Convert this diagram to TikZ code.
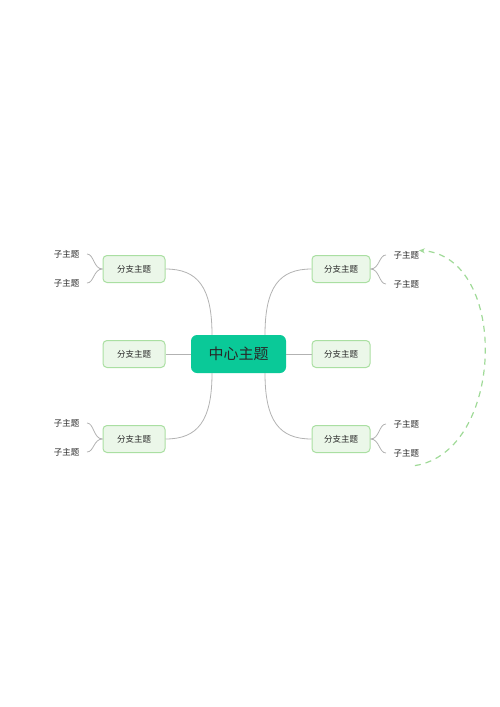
\documentclass[tikz,border=0pt]{standalone}
\usepackage{fontspec}
\setmainfont{Noto Sans CJK SC}
\usetikzlibrary{arrows.meta}

\definecolor{maingreen}{RGB}{10,201,152}
\definecolor{branchfill}{RGB}{235,247,233}
\definecolor{branchline}{RGB}{170,223,162}
\definecolor{linkgray}{RGB}{178,178,178}
\definecolor{dashgreen}{RGB}{160,218,152}
\definecolor{txt}{RGB}{40,40,40}

\tikzset{
  central/.style={fill=maingreen, rounded corners=6pt, minimum width=95pt, minimum height=38pt, inner sep=0pt, text=txt, font=\fontsize{15}{17}\selectfont},
  branch/.style={fill=branchfill, draw=branchline, line width=1pt, rounded corners=4pt, minimum height=27pt, inner sep=0pt, text=txt, font=\fontsize{8.5}{10}\selectfont},
  subtopic/.style={inner sep=1.5pt, text=txt, font=\fontsize{8.5}{10}\selectfont},
  link/.style={draw=linkgray, line width=0.8pt},
}

\begin{document}
\begin{tikzpicture}[x=1pt,y=-1pt]
			\useasboundingbox (0,0) rectangle (500,707);

			% main topic
			\node[central] (center) at (238.5,354) {中心主题};

			% branches
			\node[branch, minimum width=58pt] (bR1) at (341,269) {分支主题};
			\node[branch, minimum width=58pt] (bR2) at (341,354) {分支主题};
			\node[branch, minimum width=58pt] (bR3) at (341,439) {分支主题};
			\node[branch, minimum width=62pt] (bL1) at (134,269) {分支主题};
			\node[branch, minimum width=62pt] (bL2) at (134,354) {分支主题};
			\node[branch, minimum width=62pt] (bL3) at (134,439) {分支主题};

			% sub topics
			\node[subtopic, anchor=west] (sR1a) at (392,255) {子主题};
			\node[subtopic, anchor=west] (sR1b) at (392,284) {子主题};
			\node[subtopic, anchor=west] (sR3a) at (392,424) {子主题};
			\node[subtopic, anchor=west] (sR3b) at (392,453) {子主题};
			\node[subtopic, anchor=east] (sL1a) at (81,254) {子主题};
			\node[subtopic, anchor=east] (sL1b) at (81,283) {子主题};
			\node[subtopic, anchor=east] (sL3a) at (81,423) {子主题};
			\node[subtopic, anchor=east] (sL3b) at (81,452) {子主题};

			% center to branches
			\draw[link] ([xshift=26.5pt]center.north) .. controls +(0,-48) and +(-32,0) .. (bR1.west);
			\draw[link] ([xshift=26.5pt]center.south) .. controls +(0,48) and +(-32,0) .. (bR3.west);
			\draw[link] ([xshift=-26.5pt]center.north) .. controls +(0,-48) and +(32,0) .. (bL1.east);
			\draw[link] ([xshift=-26.5pt]center.south) .. controls +(0,48) and +(32,0) .. (bL3.east);
			\draw[link] (center.east) -- (bR2.west);
			\draw[link] (center.west) -- (bL2.east);

			% braces to sub topics
			\draw[link] (bR1.east) .. controls +(9,0) and +(-7,0) .. ([xshift=-6pt]sR1a.west);
			\draw[link] (bR1.east) .. controls +(9,0) and +(-7,0) .. ([xshift=-6pt]sR1b.west);
			\draw[link] (bR3.east) .. controls +(9,0) and +(-7,0) .. ([xshift=-6pt]sR3a.west);
			\draw[link] (bR3.east) .. controls +(9,0) and +(-7,0) .. ([xshift=-6pt]sR3b.west);
			\draw[link] (bL1.west) .. controls +(-9,0) and +(7,0) .. ([xshift=6pt]sL1a.east);
			\draw[link] (bL1.west) .. controls +(-9,0) and +(7,0) .. ([xshift=6pt]sL1b.east);
			\draw[link] (bL3.west) .. controls +(-9,0) and +(7,0) .. ([xshift=6pt]sL3a.east);
			\draw[link] (bL3.west) .. controls +(-9,0) and +(7,0) .. ([xshift=6pt]sL3b.east);

			% relationship
			\draw[dashgreen, line width=1.2pt, dash pattern=on 6pt off 5pt, -{Stealth[length=6pt,width=5pt]}]
				([xshift=-6pt,yshift=-7pt]sR3b.south east) .. controls +(90,-14) and +(91,6) .. ([xshift=-2pt,yshift=-1pt]sR1a.north east);
		\end{tikzpicture}
\end{document}
